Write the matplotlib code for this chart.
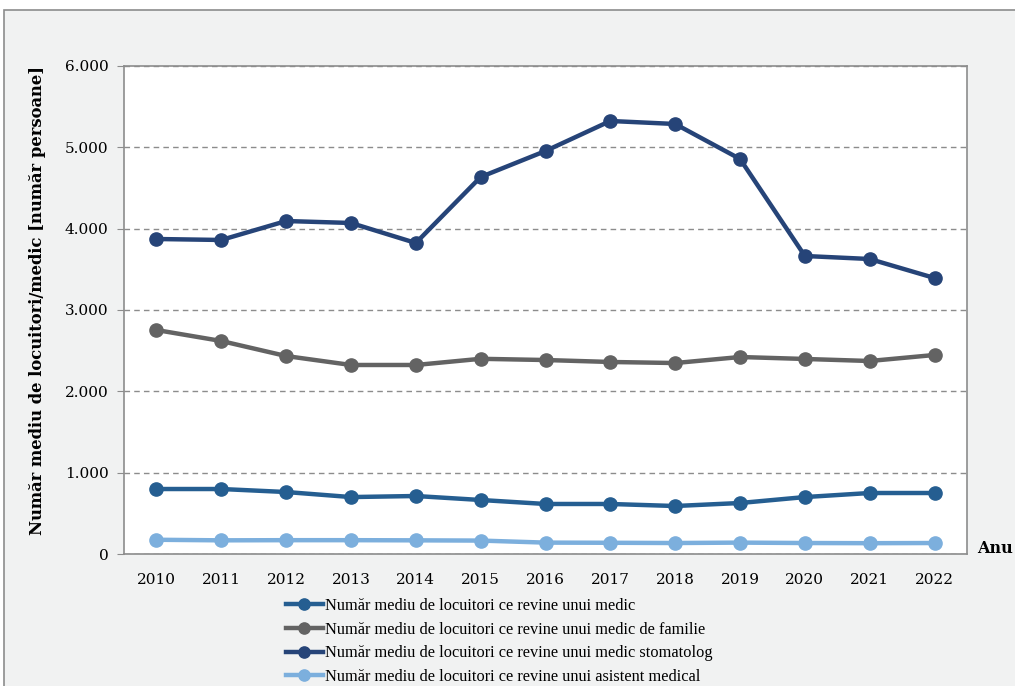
import matplotlib
matplotlib.use("Agg")
import matplotlib.pyplot as plt
from matplotlib.ticker import FuncFormatter
from matplotlib.patches import Rectangle

years = [2010, 2011, 2012, 2013, 2014, 2015, 2016, 2017, 2018, 2019, 2020, 2021, 2022]
medic = [799, 799, 762, 700, 713, 664, 615, 615, 590, 627, 700, 750, 750]
medic_familie = [2754, 2619, 2434, 2324, 2324, 2400, 2385, 2361, 2348, 2422, 2398, 2373, 2447]
medic_stomatolog = [3873, 3861, 4094, 4070, 3824, 4635, 4955, 5324, 5287, 4857, 3664, 3627, 3393]
asistent = [175, 168, 170, 170, 168, 165, 140, 138, 135, 140, 135, 133, 135]

labels = [
    "Număr mediu de locuitori ce revine unui medic",
    "Număr mediu de locuitori ce revine unui medic de familie",
    "Număr mediu de locuitori ce revine unui medic stomatolog",
    "Număr mediu de locuitori ce revine unui asistent medical",
]
colors = ["#255e91", "#636363", "#264478", "#7cafdd"]

serif = "DejaVu Serif"

fig = plt.figure(figsize=(10.15, 6.86), dpi=100)
fig.patch.set_facecolor("white")
# light gray chart frame
fig.patches.append(Rectangle((4 / 1015, -0.05), 1.1, (686 - 10) / 686 + 0.05,
                             transform=fig.transFigure, facecolor="#f1f2f2",
                             edgecolor="#8c8c8c", linewidth=1.2, zorder=-10))

ax = fig.add_axes([124 / 1015, 1 - 554 / 686, (967 - 124) / 1015, (554 - 66) / 686])
ax.set_facecolor("white")

series = [medic, medic_familie, medic_stomatolog, asistent]
for vals, lab, col in zip(series, labels, colors):
    ax.plot(years, vals, color=col, lw=3.2, marker="o", ms=9.5, label=lab, zorder=3)

ax.set_ylim(0, 6000)
ax.set_xlim(2009.5, 2022.5)
ax.set_yticks(range(0, 6001, 1000))
ax.set_xticks(years)
ax.yaxis.set_major_formatter(FuncFormatter(lambda v, p: "0" if v == 0 else f"{int(v):,}".replace(",", ".")))
ax.grid(axis="y", linestyle=(0, (4, 3)), color="#8c8c8c", lw=1)
ax.set_axisbelow(True)

for s in ax.spines.values():
    s.set_color("#8c8c8c")
    s.set_linewidth(1.2)

ax.tick_params(axis="y", length=5, color="#8c8c8c", pad=6, labelsize=11)
ax.tick_params(axis="x", length=0, pad=14, labelsize=11)
for t in ax.get_xticklabels() + ax.get_yticklabels():
    t.set_fontfamily(serif)

ax.set_ylabel("Număr mediu de locuitori/medic [număr persoane]", fontfamily=serif,
              fontweight="bold", fontsize=11.8)
ax.yaxis.set_label_coords(-0.092, 0.52)
ax.text(1.012, 0.012, "Anu", transform=ax.transAxes, fontfamily=serif,
        fontweight="bold", fontsize=11.5, ha="left", va="center")

leg = fig.legend(loc="upper left", bbox_to_anchor=(286 / 1015, 1 - 598 / 686),
                 frameon=False, prop={"family": "Liberation Serif", "size": 11.8},
                 handlelength=2.25, handletextpad=0.1, labelspacing=0.47,
                 borderaxespad=0, borderpad=0, markerscale=0.85)

fig.savefig("out.png", dpi=100)
